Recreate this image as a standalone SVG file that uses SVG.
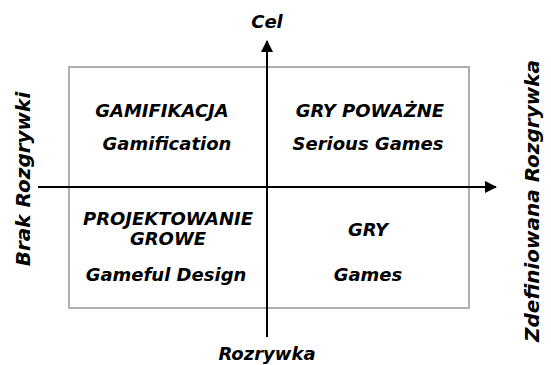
<svg xmlns="http://www.w3.org/2000/svg" width="551" height="365" viewBox="0 0 551 365">
<style>
.t{font-family:"DejaVu Sans","Liberation Sans",sans-serif;font-style:italic;font-weight:bold;font-size:18px;fill:#000;text-anchor:middle}
.v{font-size:20px}
.ax{stroke:#000;stroke-width:2;fill:none}
</style>
<defs>
<marker id="arr" viewBox="0 0 12 12" refX="11" refY="6" markerWidth="12" markerHeight="12" markerUnits="userSpaceOnUse" orient="auto">
<path d="M0,0 L12,6 L0,12 Z" fill="#000"/>
</marker>
</defs>
<rect id="frame" x="69" y="67" width="400" height="241" fill="#fff" stroke="#b0b0b0" stroke-width="2"/>
<g id="connectors">
<line class="ax" x1="267" y1="337" x2="267" y2="41" marker-end="url(#arr)"/>
<line class="ax" x1="38" y1="187" x2="496" y2="187" marker-end="url(#arr)"/>
</g>
<g id="gamifikacja">
<text class="t" x="162" y="117">GAMIFIKACJA</text>
<text class="t" x="167" y="150">Gamification</text>
</g>
<g id="gry-powazne">
<text class="t" x="370" y="117">GRY POWAŻNE</text>
<text class="t" x="368" y="150">Serious Games</text>
</g>
<g id="projektowanie">
<text class="t" x="168" y="225">PROJEKTOWANIE</text>
<text class="t" x="168" y="245">GROWE</text>
<text class="t" x="166" y="281">Gameful Design</text>
</g>
<g id="gry">
<text class="t" x="368" y="236">GRY</text>
<text class="t" x="368" y="281">Games</text>
</g>
<g id="labels">
<text class="t" x="267" y="28">Cel</text>
<text class="t" x="267" y="360">Rozrywka</text>
<text class="t v" transform="translate(30,179) rotate(-90)">Brak Rozgrywki</text>
<text class="t v" transform="translate(539,201) rotate(-90)">Zdefiniowana Rozgrywka</text>
</g>
</svg>
